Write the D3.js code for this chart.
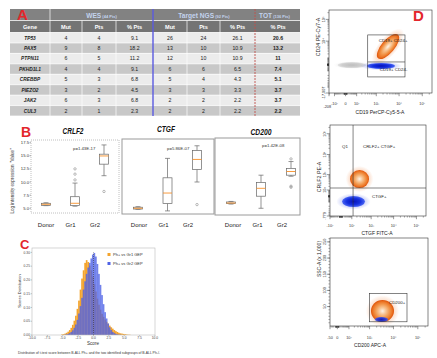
<!DOCTYPE html>
<html><head><meta charset="utf-8">
<script src="https://cdn.jsdelivr.net/npm/d3@7"></script>
<style>body{margin:0;background:#fff}svg{display:block}text{font-family:"Liberation Sans",Arial,sans-serif}</style>
</head><body><svg id="c" width="437" height="358"></svg>
<script>
// ---------- Panel A : table ----------
const genes = ["TP53","PAX5","PTPN11","PKHD1L1","CREBBP","PIEZO2","JAK2","CUL3"];
const wesMut = [4,9,6,4,5,3,6,2];
const wesPts = [4,8,5,4,3,2,3,1];
const wesPct = ["9.1","18.2","11.2","9.1","6.8","4.5","6.8","2.3"];
const ngsMut = [26,13,12,6,5,3,2,2];
const ngsPts = [24,10,10,6,4,3,2,2];
const ngsPct = ["26.1","10.9","10.9","6.5","4.3","3.3","2.2","2.2"];
const totPct = ["20.6","13.2","11","7.4","5.1","3.7","3.7","2.2"];
const tableHeaders = ["Gene","Mut","Pts","% Pts","Mut","Pts","% Pts","% Pts"];
const groupHeaders = [["WES","(44 Pts)"],["Target NGS","(92 Pts)"],["TOT","(136 Pts)"]];

// ---------- Panel B : box plots ----------
const boxGroups = ["Donor","Gr1","Gr2"];
const geneTitles = ["CRLF2","CTGF","CD200"];
const pValues = ["p=1.43E-17","p=5.86E-07","p=1.42E-08"];
// [min, q1, median, q3, max]
const crlf2Box = [[5.5,5.55,5.76,5.95,6.05],[5.4,5.5,5.95,7.2,9.8],[11.2,13.4,14.96,15.3,17.06]];
const crlf2Out = [[],[10.4,11.5,12.5],[8.2]];
const ctgfBox = [[4.8,4.85,5.0,5.2,5.3],[4.5,5.9,7.9,10.8,14.5],[10.0,12.4,14.3,16.0,16.9]];
const ctgfOut = [[],[],[5.7]];
const cd200Box = [[5.8,5.9,6.0,6.2,6.3],[5.0,7.3,8.8,9.9,11.3],[11.1,11.3,12.0,12.6,13.9]];
const cd200Out = [[],[],[9.0,9.2,14.4]];
const exprTicks = [5.0,7.5,10.0,12.5,15.0,17.5];

// ---------- Panel C : histograms ----------
const scoreBins = [-5.25,-5,-4.75,-4.5,-4.25,-4,-3.75,-3.5,-3.25,-3,-2.75,-2.5,-2.25,-2,-1.75,-1.5,-1.25,-1,-0.75,-0.5,-0.25,
  0,0.25,0.5,0.75,1,1.25,1.5,1.75,2,2.25,2.5,2.75,3,3.25,3.5,3.75,4,4.25,4.5,4.75,5,5.25,5.5,5.75];
const gr1Scores = [0.002,0.003,0.005,0.008,0.012,0.018,0.026,0.037,0.052,0.07,0.095,0.125,0.165,0.205,0.235,0.262,0.272,0.265,0.252,0.235,0.212,
  0.185,0.158,0.132,0.11,0.092,0.077,0.066,0.056,0.048,0.041,0.034,0.028,0.023,0.018,0.014,0.011,0.008,0.006,0.005,0.004,0.003,0.002,0.001,0.001];
const gr2Scores = [0,0,0.001,0.002,0.004,0.007,0.011,0.017,0.026,0.038,0.055,0.078,0.105,0.135,0.165,0.195,0.222,0.245,0.262,0.278,0.292,
  0.298,0.285,0.258,0.222,0.182,0.145,0.112,0.083,0.06,0.042,0.028,0.018,0.011,0.007,0.004,0.002,0.001,0.001,0,0,0,0,0,0];
const scoreTicks = [-10,-7.5,-5,-2.5,0,2.5,5,7.5,10];
const densTicks = [0,0.05,0.10,0.15,0.20,0.25,0.30];
const legendLabels = ["Ph+ vs Gr1 GEP","Ph+ vs Gr2 GEP"];

// ---------- Panel D : flow cytometry ----------
const flow1XTicks = [-208,-100,0,100,1000,10000,100000];
const flow1XLabels = ["-208","-10²","0","10²","10³","10⁴","10⁵"];
const flow1YTicks = [-17007,10000,100000];
const flow1YLabels = ["-17,007","10⁴","10⁵"];
const flow1Clusters = [
  {pop:"CD19-", kind:"gray", x:[-60,330], y:[-420,300]},
  {pop:"CD19+CD24-", kind:"blue", x:[370,6600], y:[-550,190]},
  {pop:"CD19+CD24+", kind:"orange", x:[1200,9000], y:[900,20000], tilt:true}
];
const flow1Gate = {x:[400,18000], y:[-2500,19700], split:318};
const flow1GateLabels = ["CD19+ CD24+","CD19+ CD24-"];

const flow2XTicks = [-100,100,1000,10000,100000];
const flow2XLabels = ["-10²","10²","10³","10⁴","10⁵"];
const flow2YTicks = [-779,100,1000,10000,100000];
const flow2YLabels = ["-779","10²","10³","10⁴","10⁵"];
const flow2Clusters = [
  {pop:"CTGF+", kind:"blue", x:[6,515], y:[-225,3]},
  {pop:"CRLF2+ CTGF+", kind:"orange", x:[75,800], y:[150,1720]}
];
const flow2Quad = {x:120, y:150};
const flow2QuadLabels = ["Q1","CRLF2+ CTGF+","CTGF+"];

const flow3XTicks = [-50,0,100,1000,10000,100000];
const flow3XLabels = ["-50","0","10²","10³","10⁴","10⁵"];
const flow3YTicks = [50,100,150,200,250];
const flow3YLabels = ["50","100","150","200","250"];
const flow3Clusters = [
  {pop:"CD200+", kind:"orange", x:[1150,10500], y:[2.5,70]},
  {pop:"CD200+ low", kind:"blueSmall", x:[1700,5900], y:[2.5,18]}
];
const flow3Gate = {x:[1000,36000], y:[3,90]};
const flow3GateLabel = "CD200+";

// =====================================================
const svg = d3.select("#c");
svg.append("rect").attr("width",437).attr("height",358).attr("fill","#fff");
const RED = "#e3262b";
const defs = svg.append("defs");

// ---------------- A -----------------
const colEdges = [10,50,82,116,153,187,220,255,300];
const colMid = i => i===7 ? 278 : (colEdges[i]+colEdges[i+1])/2;
const rowY = d3.scaleBand().domain(genes).range([32.5,116]);
defs.append("clipPath").attr("id","tclip").append("rect").attr("x",10).attr("y",8).attr("width",290).attr("height",110);
const gA = svg.append("g").attr("clip-path","url(#tclip)");
gA.append("rect").attr("x",10).attr("y",9).attr("width",290).attr("height",11.5).attr("fill","#828282");
gA.append("rect").attr("x",10).attr("y",20.5).attr("width",290).attr("height",12).attr("fill","#747474");
gA.selectAll("rect.row").data(genes).join("rect").attr("class","row")
  .attr("x",10).attr("y",d=>rowY(d)).attr("width",290).attr("height",rowY.bandwidth())
  .attr("fill",(d,i)=> i%2 ? "#c8c8c8" : "#ececec");
gA.selectAll("line.h").data([20.5,32.5].concat(genes.map(g=>rowY(g)+rowY.bandwidth()))).join("line")
  .attr("x1",10).attr("x2",300).attr("y1",d=>d).attr("y2",d=>d).attr("stroke","#fff").attr("stroke-width",0.7);
gA.selectAll("line.v").data([50,82,116,187,220]).join("line")
  .attr("x1",d=>d).attr("x2",d=>d).attr("y1",d=> d===50?9:20.5).attr("y2",116).attr("stroke","#fff").attr("stroke-width",0.7);
gA.append("text").attr("x",17).attr("y",20.3).attr("font-size",15).attr("font-weight","bold").attr("fill",RED).text("A");
const ghPos = [[101.5,"middle"],[204,"middle"],[259,"start"]];
groupHeaders.forEach((h,i)=>{
  const t = gA.append("text").attr("x",ghPos[i][0]).attr("y",17.6).attr("text-anchor",ghPos[i][1]).attr("fill","#c3d3ee").attr("font-weight","bold");
  t.append("tspan").attr("font-size",6.6).text(h[0]);
  t.append("tspan").attr("font-size",4).text(" "+h[1]);
});
tableHeaders.forEach((h,i)=>{
  gA.append("text").attr("x",colMid(i)).attr("y",29.2).attr("text-anchor","middle").attr("font-size",5.6).attr("font-weight","bold").attr("fill","#fff").text(h);
});
const cols = [genes,wesMut,wesPts,wesPct,ngsMut,ngsPts,ngsPct,totPct];
cols.forEach((col,ci)=>{
  col.forEach((v,ri)=>{
    gA.append("text").attr("x",colMid(ci)).attr("y",rowY(genes[ri])+rowY.bandwidth()/2+1.9)
      .attr("text-anchor","middle").attr("font-size",ci===0?4.8:5.2)
      .attr("font-weight",(ci===0||ci===7)?"bold":"normal").attr("font-style",ci===0?"italic":"normal")
      .attr("fill","#222").text(v);
  });
});
svg.append("line").attr("x1",153).attr("x2",153).attr("y1",9).attr("y2",116).attr("stroke","#5b5be0").attr("stroke-width",1.4);
svg.append("line").attr("x1",255).attr("x2",255).attr("y1",9).attr("y2",116).attr("stroke","#c0504d").attr("stroke-width",0.9).attr("stroke-dasharray","2,1");

// ---------------- B -----------------
svg.append("text").attr("x",21).attr("y",137).attr("font-size",14).attr("font-weight","bold").attr("fill",RED).text("B");
const bY = d3.scaleLinear().domain([4.1,18.0]).range([213,140]);
const bPanels = [
  {frame:[31,140,88,73], dash:true, pos:[46,104], lab:[46,95], stats:crlf2Box, out:crlf2Out, title:[73,134], p:[73,150]},
  {frame:[122,139,92,75], dash:false, pos:[138,197], lab:[139,188], stats:ctgfBox, out:ctgfOut, title:[166,132], p:[167,150]},
  {frame:[215,138,85,77], dash:false, pos:[231,291], lab:[233,282], stats:cd200Box, out:cd200Out, title:[261,135], p:[262,147]}
];
bPanels.forEach((P,pi)=>{
  const g = svg.append("g");
  g.append("rect").attr("x",P.frame[0]).attr("y",P.frame[1]).attr("width",P.frame[2]).attr("height",P.frame[3])
    .attr("fill","none").attr("stroke",P.dash?"#b0b0b0":"#9a9a9a").attr("stroke-width",P.dash?0.8:1)
    .attr("stroke-dasharray",P.dash?"1,1":null);
  const xs = d3.scalePoint().domain(boxGroups).range(P.pos);
  const xl = d3.scalePoint().domain(boxGroups).range(P.lab);
  g.append("text").attr("x",P.title[0]).attr("y",P.title[1]).attr("text-anchor","middle").attr("font-size",8.5)
    .attr("font-weight","bold").attr("font-style","italic").attr("fill","#111")
    .attr("textLength",geneTitles[pi]==="CTGF"?18:21).attr("lengthAdjust","spacingAndGlyphs").text(geneTitles[pi]);
  g.append("text").attr("x",P.p[0]).attr("y",P.p[1]).attr("font-size",4.3).attr("fill","#333").text(pValues[pi]);
  boxGroups.forEach((grp,i)=>{
    const s = P.stats[i], cx = xs(grp), w = 9;
    const st = {stroke:"#666", sw:0.7};
    g.append("line").attr("x1",cx).attr("x2",cx).attr("y1",bY(s[0])).attr("y2",bY(s[1])).attr("stroke",st.stroke).attr("stroke-width",st.sw);
    g.append("line").attr("x1",cx).attr("x2",cx).attr("y1",bY(s[3])).attr("y2",bY(s[4])).attr("stroke",st.stroke).attr("stroke-width",st.sw);
    [s[0],s[4]].forEach(v=> g.append("line").attr("x1",cx-2.5).attr("x2",cx+2.5).attr("y1",bY(v)).attr("y2",bY(v)).attr("stroke",st.stroke).attr("stroke-width",st.sw));
    g.append("rect").attr("x",cx-w/2).attr("y",bY(s[3])).attr("width",w).attr("height",Math.max(0.8,bY(s[1])-bY(s[3])))
      .attr("fill","#fff").attr("stroke",st.stroke).attr("stroke-width",st.sw);
    g.append("line").attr("x1",cx-w/2).attr("x2",cx+w/2).attr("y1",bY(s[2])).attr("y2",bY(s[2])).attr("stroke","#f7912a").attr("stroke-width",0.9);
    P.out[i].forEach(v=> g.append("circle").attr("cx",cx).attr("cy",bY(v)).attr("r",1.2).attr("fill","none").attr("stroke","#777").attr("stroke-width",0.5));
    g.append("text").attr("x",xl(grp)).attr("y",227).attr("text-anchor","middle").attr("font-size",6).attr("fill","#222").text(grp);
  });
  if(pi===0){
    exprTicks.forEach(t=>{
      g.append("line").attr("x1",31).attr("x2",29.5).attr("y1",bY(t)).attr("y2",bY(t)).attr("stroke","#666").attr("stroke-width",0.5);
      g.append("text").attr("x",29).attr("y",bY(t)+1.5).attr("text-anchor","end").attr("font-size",4.2).attr("fill","#333").text(t.toFixed(1));
    });
    g.append("text").attr("transform","translate(14,181) rotate(-90)").attr("text-anchor","middle").attr("font-size",4.6).attr("fill","#333")
      .text('Log intensity expression "Value"');
  }
});

// ---------------- C -----------------
svg.append("text").attr("x",20).attr("y",248.5).attr("font-size",13).attr("font-weight","bold").attr("fill",RED).text("C");
const cX = d3.scaleLinear().domain([-10,10]).range([32,155]);
const cY = d3.scaleLinear().domain([0,0.316]).range([335,248]);
const gC = svg.append("g");
const binW = 0.25;
gC.selectAll("rect.o").data(scoreBins).join("rect").attr("x",d=>cX(d)).attr("width",d=>cX(d+binW)-cX(d)+0.15)
  .attr("y",(d,i)=>cY(gr1Scores[i])).attr("height",(d,i)=>cY(0)-cY(gr1Scores[i])).attr("fill","#f4a42c");
gC.selectAll("rect.b").data(scoreBins).join("rect").attr("x",d=>cX(d)).attr("width",d=>cX(d+binW)-cX(d)+0.15)
  .attr("y",(d,i)=>cY(gr2Scores[i])).attr("height",(d,i)=>cY(0)-cY(gr2Scores[i])).attr("fill","#4f63e6").attr("fill-opacity",0.8);
gC.append("line").attr("x1",cX(0)).attr("x2",cX(0)).attr("y1",cY(0)).attr("y2",cY(0.3)).attr("stroke","#222").attr("stroke-width",0.5).attr("stroke-dasharray","1,1");
gC.append("rect").attr("x",32).attr("y",248).attr("width",123).attr("height",87).attr("fill","none").attr("stroke","#bbb").attr("stroke-width",0.6);
scoreTicks.forEach(t=>{
  gC.append("line").attr("x1",cX(t)).attr("x2",cX(t)).attr("y1",335).attr("y2",336.3).attr("stroke","#777").attr("stroke-width",0.4);
  gC.append("text").attr("x",cX(t)).attr("y",339.3).attr("text-anchor","middle").attr("font-size",3.3).attr("fill","#444").text(t.toFixed(1));
});
densTicks.forEach(t=>{
  gC.append("line").attr("x1",32).attr("x2",30.7).attr("y1",cY(t)).attr("y2",cY(t)).attr("stroke","#777").attr("stroke-width",0.4);
  gC.append("text").attr("x",30).attr("y",cY(t)+1.1).attr("text-anchor","end").attr("font-size",3.3).attr("fill","#444").text(t.toFixed(2));
});
gC.append("text").attr("transform","translate(21,291) rotate(-90)").attr("text-anchor","middle").attr("font-size",4).attr("fill","#333").text("Scores Distribution");
gC.append("text").attr("x",93).attr("y",344.5).attr("text-anchor","middle").attr("font-size",4.6).attr("fill","#333").text("Score");
gC.append("text").attr("x",18).attr("y",354).attr("font-size",3.8).attr("fill","#333").attr("textLength",142).attr("lengthAdjust","spacingAndGlyphs")
  .text("Distribution of t-test score between B-ALL Ph+ and the two identified subgroups of B-ALL Ph-/-");
const legCol = ["#f4a42c","#4f63e6"];
legendLabels.forEach((l,i)=>{
  gC.append("rect").attr("x",107.5).attr("y",253+i*9).attr("width",3).attr("height",3).attr("fill",legCol[i]);
  gC.append("text").attr("x",113).attr("y",256+i*9).attr("font-size",4).attr("fill","#333").text(l);
});

// ---------------- D -----------------
function radial(id, stops){
  const gr = defs.append("radialGradient").attr("id",id);
  stops.forEach(s=> gr.append("stop").attr("offset",s[0]).attr("stop-color",s[1]).attr("stop-opacity",s[2]));
}
radial("orCore",[[0,"#fdf3e8",1],[0.3,"#f8c595",1],[0.6,"#f29a50",1],[0.85,"#ec7424",1],[1,"#de5208",1]]);
radial("orHalo",[[0,"#f07a30",0.55],[0.6,"#f07a30",0.3],[1,"#f07a30",0]]);
radial("blCore",[[0,"#0512b8",1],[0.6,"#1530e0",1],[1,"#3a58f2",0.9]]);
radial("blHalo",[[0,"#3048e8",0.45],[0.6,"#3048e8",0.25],[1,"#3048e8",0]]);
radial("grCore",[[0,"#bdbdbd",1],[0.7,"#cfcfcf",1],[1,"#dedede",0.8]]);
radial("grHalo",[[0,"#cccccc",0.5],[1,"#cccccc",0]]);
const kindStyle = {
  orange:{core:"orCore",halo:"orHalo",hs:1.45},
  blue:{core:"blCore",halo:"blHalo",hs:1.5},
  blueSmall:{core:"blCore",halo:"blHalo",hs:1.2},
  gray:{core:"grCore",halo:"grHalo",hs:1.3}
};
function drawCluster(g, xs, ys, cl){
  const st = kindStyle[cl.kind];
  const x0=xs(cl.x[0]), x1=xs(cl.x[1]), y0=ys(cl.y[0]), y1=ys(cl.y[1]);
  const cx=(x0+x1)/2, cy=(y0+y1)/2;
  let rx=Math.abs(x1-x0)/2, ry=Math.abs(y1-y0)/2, rot=0;
  if(cl.tilt){ rx=Math.hypot(x1-x0,y1-y0)/2; ry=6.5; rot=Math.atan2(y1-y0,x1-x0)*180/Math.PI; }
  const tr = `rotate(${rot},${cx},${cy})`;
  g.append("ellipse").attr("cx",cx).attr("cy",cy).attr("rx",rx*st.hs).attr("ry",ry*st.hs).attr("transform",tr).attr("fill",`url(#${st.halo})`);
  g.append("ellipse").attr("cx",cx).attr("cy",cy).attr("rx",rx).attr("ry",ry).attr("transform",tr).attr("fill",`url(#${st.core})`)
    .attr("opacity", cl.kind==="blueSmall"?0.85:1);
}
function minorLog(domain){
  const out=[];
  [1,10,100,1000,10000,100000].forEach(k=>{ for(let m=2;m<=9;m++){ const v=m*k; if(v<domain[1]) out.push(v); if(-v>domain[0]) out.push(-v);} });
  return out;
}
function flowAxes(g, xs, ys, fr, xt, xl, yt, yl, xMinor, yMinor, xLabOff){
  g.append("rect").attr("x",fr[0]).attr("y",fr[1]).attr("width",fr[2]-fr[0]).attr("height",fr[3]-fr[1]).attr("fill","none").attr("stroke","#333").attr("stroke-width",0.6);
  xMinor.forEach(v=> g.append("line").attr("x1",xs(v)).attr("x2",xs(v)).attr("y1",fr[3]).attr("y2",fr[3]+1.6).attr("stroke","#333").attr("stroke-width",0.4));
  yMinor.forEach(v=> g.append("line").attr("y1",ys(v)).attr("y2",ys(v)).attr("x1",fr[0]).attr("x2",fr[0]-1.6).attr("stroke","#333").attr("stroke-width",0.4));
  xt.forEach((v,i)=>{
    g.append("line").attr("x1",xs(v)).attr("x2",xs(v)).attr("y1",fr[3]).attr("y2",fr[3]+3.2).attr("stroke","#333").attr("stroke-width",0.5);
    const first = (i===0 && xl[i]==="-208");
    g.append("text").attr("x",first? xs(v)+2 : xs(v)).attr("y",fr[3]+xLabOff+(first?3:0))
      .attr("text-anchor",first?"end":"middle").attr("font-size",3.8).attr("fill","#333").text(xl[i]);
  });
  yt.forEach((v,i)=>{
    g.append("line").attr("y1",ys(v)).attr("y2",ys(v)).attr("x1",fr[0]).attr("x2",fr[0]-3.2).attr("stroke","#333").attr("stroke-width",0.5);
    g.append("text").attr("transform",`translate(${fr[0]-4},${ys(v)}) rotate(-90)`).attr("text-anchor","middle").attr("font-size",3.8).attr("fill","#333").text(yl[i]);
  });
}
function lab(g,x,y,t,fs){ g.append("text").attr("x",x).attr("y",y).attr("font-size",fs).attr("fill","#222").text(t); }

// Plot 1
{
  const fr=[329,10,432,93];
  const xs=d3.scaleSymlog().constant(50).domain([-208,262143]).range([fr[0],fr[2]]);
  const ys=d3.scaleSymlog().constant(1000).domain([-17007,262143]).range([fr[3],fr[1]]);
  const g=svg.append("g");
  flow1Clusters.forEach(c=>drawCluster(g,xs,ys,c));
  const gx0=xs(flow1Gate.x[0]), gx1=xs(flow1Gate.x[1]);
  g.append("rect").attr("x",gx0).attr("y",ys(flow1Gate.y[1])).attr("width",gx1-gx0).attr("height",ys(flow1Gate.y[0])-ys(flow1Gate.y[1]))
    .attr("fill","none").attr("stroke","#333").attr("stroke-width",0.6);
  g.append("line").attr("x1",gx0).attr("x2",gx1).attr("y1",ys(flow1Gate.split)).attr("y2",ys(flow1Gate.split)).attr("stroke","#333").attr("stroke-width",0.6);
  lab(g,gx0+11,ys(flow1Gate.y[1])+7,flow1GateLabels[0],4.4);
  lab(g,gx0+12,ys(flow1Gate.split)+9,flow1GateLabels[1],4.4);
  flowAxes(g,xs,ys,fr,flow1XTicks,flow1XLabels,flow1YTicks,flow1YLabels,minorLog([-208,262143]),[0,1000].concat(minorLog([-17007,262143])),11.5);
  g.append("text").attr("transform","translate(320,37) rotate(-90)").attr("text-anchor","middle").attr("font-size",5.3).attr("fill","#222").text("CD24 PE-Cy7-A");
  g.append("text").attr("x",380).attr("y",114).attr("text-anchor","middle").attr("font-size",5).attr("fill","#222").text("CD19 PerCP-Cy5-5-A");
  svg.append("text").attr("x",413).attr("y",20.5).attr("font-size",15).attr("font-weight","bold").attr("fill",RED).text("D");
}
// Plot 2
{
  const fr=[330,125,426,216];
  const xs=d3.scaleSymlog().constant(50).domain([-100,262143]).range([fr[0],fr[2]]);
  const ys=d3.scaleSymlog().constant(100).domain([-779,262143]).range([fr[3],fr[1]]);
  const g=svg.append("g");
  flow2Clusters.forEach(c=>drawCluster(g,xs,ys,c));
  g.append("line").attr("x1",xs(flow2Quad.x)).attr("x2",xs(flow2Quad.x)).attr("y1",fr[1]).attr("y2",fr[3]).attr("stroke","#333").attr("stroke-width",0.6);
  g.append("line").attr("x1",fr[0]).attr("x2",fr[2]).attr("y1",ys(flow2Quad.y)).attr("y2",ys(flow2Quad.y)).attr("stroke","#333").attr("stroke-width",0.6);
  lab(g,342,148,flow2QuadLabels[0],4.4);
  lab(g,363,148,flow2QuadLabels[1],4.4);
  lab(g,372,198,flow2QuadLabels[2],4.4);
  flowAxes(g,xs,ys,fr,flow2XTicks,flow2XLabels,flow2YTicks,flow2YLabels,[0].concat(minorLog([-100,262143])),[0].concat(minorLog([-779,262143])),11);
  g.append("text").attr("transform","translate(321,177) rotate(-90)").attr("text-anchor","middle").attr("font-size",5.3).attr("fill","#222").text("CRLF2 PE-A");
  g.append("text").attr("x",377).attr("y",235).attr("text-anchor","middle").attr("font-size",5).attr("fill","#222").text("CTGF FITC-A");
}
// Plot 3
{
  const fr=[330,238,428,326];
  const xs=d3.scaleSymlog().constant(50).domain([-50,262143]).range([fr[0],fr[2]]);
  const ys=d3.scaleLinear().domain([-10,262]).range([fr[3],fr[1]]);
  const g=svg.append("g");
  flow3Clusters.forEach(c=>drawCluster(g,xs,ys,c));
  const gx0=xs(flow3Gate.x[0]), gx1=xs(flow3Gate.x[1]);
  g.append("rect").attr("x",gx0).attr("y",ys(flow3Gate.y[1])).attr("width",gx1-gx0).attr("height",ys(flow3Gate.y[0])-ys(flow3Gate.y[1]))
    .attr("fill","none").attr("stroke","#333").attr("stroke-width",0.6);
  lab(g,389,304,flow3GateLabel,4.4);
  const yMin = d3.range(0,261,10);
  flowAxes(g,xs,ys,fr,flow3XTicks,flow3XLabels,flow3YTicks,flow3YLabels,minorLog([-50,262143]),yMin,12.5);
  g.append("text").attr("transform","translate(321,259) rotate(-90)").attr("text-anchor","middle").attr("font-size",5).attr("fill","#222").text("SSC-A (x 1,000)");
  g.append("text").attr("x",370).attr("y",347).attr("text-anchor","middle").attr("font-size",5).attr("fill","#222").text("CD200 APC-A");
}
</script></body></html>
